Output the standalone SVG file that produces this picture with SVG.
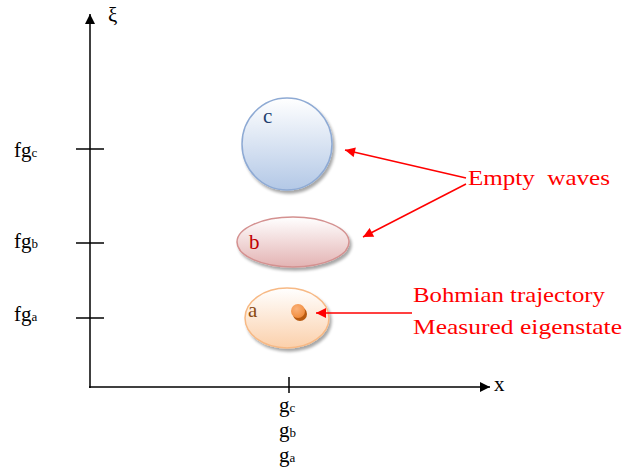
<svg xmlns="http://www.w3.org/2000/svg" width="624" height="472" viewBox="0 0 624 472">
<defs>
<linearGradient id="gc" x1="0" y1="0" x2="0" y2="1"><stop offset="0" stop-color="#ffffff"/><stop offset="1" stop-color="#b3c8e6"/></linearGradient>
<linearGradient id="gb" x1="0" y1="0" x2="0" y2="1"><stop offset="0" stop-color="#ffffff"/><stop offset="1" stop-color="#e3b3b3"/></linearGradient>
<linearGradient id="ga" x1="0" y1="0" x2="0" y2="1"><stop offset="0" stop-color="#ffffff"/><stop offset="1" stop-color="#fbd0ab"/></linearGradient>
<radialGradient id="gd" cx="0.4" cy="0.35" r="0.7"><stop offset="0" stop-color="#fbb27a"/><stop offset="1" stop-color="#f08a3a"/></radialGradient>
<marker id="ak" viewBox="0 0 10 10" refX="10" refY="5" markerWidth="10" markerHeight="10" markerUnits="userSpaceOnUse" orient="auto"><path d="M0,0 L10,5 L0,10 z" fill="#000"/></marker>
<marker id="ar" viewBox="0 0 10 10" refX="10" refY="5" markerWidth="12" markerHeight="10" markerUnits="userSpaceOnUse" orient="auto"><path d="M0,0 L10,5 L0,10 z" fill="#ff0000"/></marker>
<filter id="sh" x="-20%" y="-20%" width="140%" height="140%"><feGaussianBlur in="SourceAlpha" stdDeviation="1.5"/><feOffset dx="2" dy="3"/><feComponentTransfer><feFuncA type="linear" slope="0.35"/></feComponentTransfer><feMerge><feMergeNode/><feMergeNode in="SourceGraphic"/></feMerge></filter>
</defs>
<style>
.t{font-family:"Liberation Serif","Times New Roman",serif;font-size:21px;fill:#000}
.s{font-size:13px;fill:#000}
.r{font-family:"Liberation Serif","Times New Roman",serif;font-size:21px;fill:#ff0000}
.ax{stroke:#000;stroke-width:1.5;fill:none}
.rl{stroke:#ff0000;stroke-width:1.5;fill:none}
.nl{font-family:"Liberation Serif","Times New Roman",serif;font-size:21px}
</style>
<g id="axes">
<line class="ax" x1="90" y1="388" x2="90" y2="14" marker-end="url(#ak)"/>
<line class="ax" x1="89" y1="387" x2="490" y2="387" marker-end="url(#ak)"/>
<line class="ax" x1="76" y1="149" x2="104" y2="149"/>
<line class="ax" x1="76" y1="243" x2="104" y2="243"/>
<line class="ax" x1="76" y1="318" x2="104" y2="318"/>
<line class="ax" x1="289" y1="377" x2="289" y2="393"/>
<text class="t" x="108" y="22">ξ</text>
<text class="t" x="494" y="391">x</text>
<text class="t" x="14" y="157">fg<tspan class="s">c</tspan></text>
<text class="t" x="14" y="248">fg<tspan class="s">b</tspan></text>
<text class="t" x="14" y="321">fg<tspan class="s">a</tspan></text>
<text class="t" x="279" y="412">g<tspan class="s">c</tspan></text>
<text class="t" x="279" y="437">g<tspan class="s">b</tspan></text>
<text class="t" x="279" y="462">g<tspan class="s">a</tspan></text>
</g>
<g id="node-c">
<ellipse cx="287" cy="144" rx="45" ry="46" fill="url(#gc)" stroke="#8eaad4" stroke-width="1.5" filter="url(#sh)"/>
<text class="nl" x="263" y="123" fill="#1f3f6f">c</text>
</g>
<g id="node-b">
<ellipse cx="293" cy="242" rx="56" ry="25" fill="url(#gb)" stroke="#d49190" stroke-width="1.5" filter="url(#sh)"/>
<text class="nl" x="249" y="249" fill="#c00000">b</text>
</g>
<g id="node-a">
<ellipse cx="287" cy="318" rx="42" ry="30" fill="url(#ga)" stroke="#f7b985" stroke-width="1.5" filter="url(#sh)"/>
<text class="nl" x="248" y="317" fill="#8a4a12">a</text>
<circle cx="300" cy="314" r="7" fill="#b85a10"/>
<circle cx="298" cy="311" r="7" fill="url(#gd)"/>
</g>
<g id="connectors">
<line class="rl" x1="466" y1="178" x2="345" y2="150" marker-end="url(#ar)"/>
<line class="rl" x1="466" y1="184" x2="363" y2="237" marker-end="url(#ar)"/>
<line class="rl" x1="412" y1="313" x2="316" y2="313" marker-end="url(#ar)"/>
</g>
<g id="labels">
<text class="r" x="468" y="185" textLength="142" lengthAdjust="spacingAndGlyphs" xml:space="preserve">Empty  waves</text>
<text class="r" x="413" y="302" textLength="192" lengthAdjust="spacingAndGlyphs">Bohmian trajectory</text>
<text class="r" x="413" y="334" textLength="209" lengthAdjust="spacingAndGlyphs">Measured eigenstate</text>
</g>
</svg>
